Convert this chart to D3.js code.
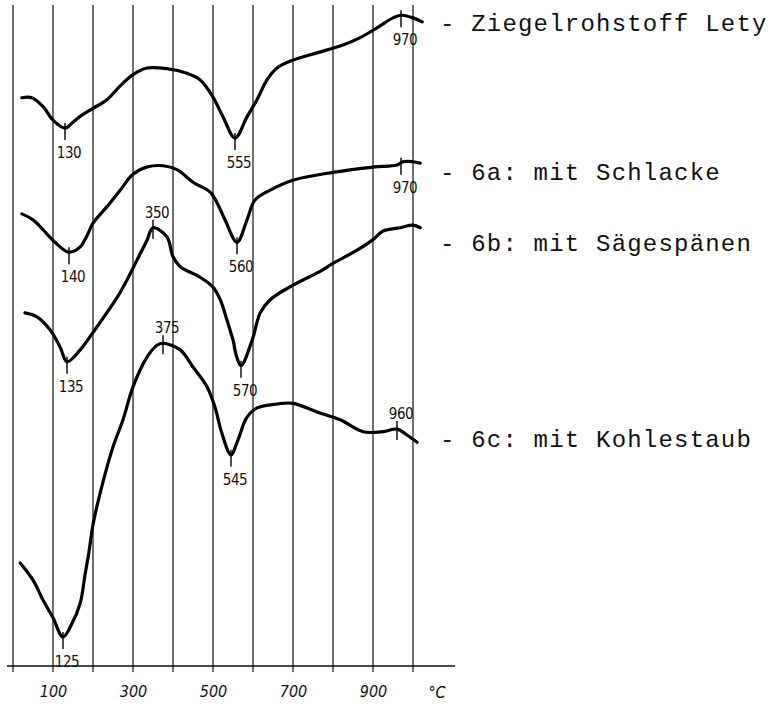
<!DOCTYPE html>
<html>
<head>
<meta charset="utf-8">
<script src="https://cdn.jsdelivr.net/npm/d3@7"></script>
<style>
  body { margin: 0; background: #fff; }
  svg { display: block; }
</style>
</head>
<body>
<svg width="768" height="708"></svg>
<script>
// temperatures (°C) and relative DTA deflection (arbitrary units, 0..100)
const lety = [
  [22, 86.1], [47, 86.1], [76, 84.7], [100, 82.7], [130, 81.5], [150, 82.4], [173, 83.5],
  [200, 84.5], [235, 85.8], [268, 87.9], [300, 89.6], [335, 90.6], [385, 90.5], [435, 89.8],
  [468, 88.8], [500, 86.2], [525, 83.2], [555, 80.0], [585, 83.2], [610, 85.8], [635, 88.8],
  [660, 90.6], [700, 91.8], [760, 92.9], [825, 94.1], [868, 95.2], [910, 96.7], [950, 98.2],
  [970, 98.6], [1000, 98.2], [1023, 97.6]
];
const schlacke = [
  [22, 68.5], [50, 67.6], [75, 66.1], [105, 64.2], [140, 62.7], [168, 63.5], [185, 65.2],
  [200, 67.1], [235, 69.6], [268, 72.1], [300, 74.5], [335, 75.6], [375, 75.8], [410, 75.2],
  [450, 73.3], [493, 71.8], [510, 70.2], [530, 67.6], [560, 64.2], [585, 67.6], [605, 70.6],
  [643, 72.1], [700, 73.6], [800, 74.8], [900, 75.6], [960, 75.9], [975, 76.4], [1000, 76.4],
  [1018, 76.2]
];
const saegespaene = [
  [30, 53.5], [60, 52.9], [93, 50.9], [118, 48.3], [135, 46.1], [168, 47.9], [210, 51.4],
  [260, 55.8], [285, 58.5], [310, 61.5], [335, 64.5], [350, 66.4], [385, 65.0], [400, 62.0],
  [418, 60.5], [468, 58.9], [500, 57.4], [518, 55.5], [535, 52.4], [550, 49.4], [558, 47.1],
  [570, 45.5], [598, 49.4], [618, 53.5], [643, 55.5], [700, 57.7], [768, 59.8], [800, 61.0],
  [860, 63.0], [900, 64.6], [925, 65.9], [968, 66.4], [1000, 66.8], [1018, 66.4]
];
const kohlestaub = [
  [18, 15.6], [50, 13.0], [75, 10.0], [100, 7.3], [125, 4.4], [148, 6.5], [168, 9.5],
  [180, 13.8], [190, 17.3], [200, 21.4], [225, 27.9], [250, 33.2], [275, 37.3], [300, 42.3],
  [335, 46.8], [360, 48.6], [375, 48.9], [418, 47.9], [450, 45.3], [485, 42.3], [505, 39.2],
  [522, 35.3], [545, 32.0], [562, 34.2], [585, 37.7], [610, 39.1], [660, 39.7], [700, 39.8],
  [760, 38.5], [818, 37.3], [875, 35.5], [925, 35.5], [960, 35.9], [985, 35.0], [1010, 33.9]
];

const seriesNames = ['Ziegelrohstoff Lety', '6a: mit Schlacke', '6b: mit Sägespänen', '6c: mit Kohlestaub'];
const seriesData = [lety, schlacke, saegespaene, kohlestaub];
const legendLevel = [97.3, 74.7, 64.0, 34.2];

// peak / trough marks: series index, temperature, label side
const peaks = [
  { s: 0, t: 130, side: 'below' }, { s: 0, t: 555, side: 'below' }, { s: 0, t: 970, side: 'below' },
  { s: 1, t: 140, side: 'below' }, { s: 1, t: 560, side: 'below' }, { s: 1, t: 970, side: 'below' },
  { s: 2, t: 135, side: 'below' }, { s: 2, t: 350, side: 'above' }, { s: 2, t: 570, side: 'below' },
  { s: 3, t: 125, side: 'below' }, { s: 3, t: 375, side: 'above' }, { s: 3, t: 545, side: 'below' },
  { s: 3, t: 960, side: 'above' }
];

const gridTemps = [0, 100, 200, 300, 400, 500, 600, 700, 800, 900, 1000];
const tickLabels = [100, 300, 500, 700, 900];

const svg = d3.select('svg');
const x = d3.scaleLinear().domain([0, 1000]).range([13, 413]);
const y = d3.scaleLinear().domain([0, 100]).range([666, 6]);

const handFont = '"DejaVu Sans Condensed", "DejaVu Sans", sans-serif';

// vertical grid
svg.append('g')
  .selectAll('line')
  .data(gridTemps)
  .enter()
  .append('line')
  .attr('x1', d => x(d)).attr('x2', d => x(d))
  .attr('y1', 5).attr('y2', 672)
  .attr('stroke', '#111')
  .attr('stroke-width', 1.2);

// x axis
svg.append('line')
  .attr('x1', x(-15)).attr('x2', x(1105))
  .attr('y1', y(0)).attr('y2', y(0))
  .attr('stroke', '#111')
  .attr('stroke-width', 1.6);

const axis = svg.append('g')
  .attr('transform', `translate(0, ${y(0)})`)
  .call(d3.axisBottom(x).tickValues(tickLabels).tickSize(0).tickPadding(20));
axis.select('.domain').remove();
axis.selectAll('text')
  .attr('font-family', handFont)
  .attr('font-size', 16)
  .attr('font-style', 'italic')
  .attr('fill', '#111');

svg.append('text')
  .attr('x', x(1060)).attr('y', 698)
  .attr('text-anchor', 'middle')
  .attr('font-family', handFont)
  .attr('font-size', 16)
  .attr('font-style', 'italic')
  .text('°C');

// curves
const line = d3.line()
  .x(d => x(d[0]))
  .y(d => y(d[1]))
  .curve(d3.curveCatmullRom.alpha(0.5));

svg.append('g')
  .selectAll('path')
  .data(seriesData)
  .enter()
  .append('path')
  .attr('d', line)
  .attr('fill', 'none')
  .attr('stroke', '#000')
  .attr('stroke-width', 3.2)
  .attr('stroke-linejoin', 'round')
  .attr('stroke-linecap', 'round');

// peak marks
function valueAt(data, t) {
  for (let i = 1; i < data.length; i++) {
    if (t <= data[i][0]) {
      const a = data[i - 1], b = data[i];
      return a[1] + (b[1] - a[1]) * (t - a[0]) / (b[0] - a[0]);
    }
  }
  return data[data.length - 1][1];
}

const marks = svg.append('g');
peaks.forEach(p => {
  const px = x(p.t);
  const py = y(valueAt(seriesData[p.s], p.t));
  const below = p.side === 'below';
  marks.append('line')
    .attr('x1', px).attr('x2', px)
    .attr('y1', below ? py - 5 : py - 8)
    .attr('y2', below ? py + 12 : py + 11)
    .attr('stroke', '#000')
    .attr('stroke-width', 1.4);
  marks.append('text')
    .attr('x', px + 4)
    .attr('y', below ? py + 30 : py - 10)
    .attr('text-anchor', 'middle')
    .attr('font-family', handFont)
    .attr('font-size', 15)
    .attr('letter-spacing', -0.5)
    .attr('fill', '#111')
    .text(p.t);
});

// series names
svg.append('g')
  .selectAll('text')
  .data(seriesNames)
  .enter()
  .append('text')
  .attr('x', 440)
  .attr('y', (d, i) => y(legendLevel[i]) + 7)
  .attr('font-family', '"Liberation Mono", "DejaVu Sans Mono", monospace')
  .attr('font-size', 24)
  .attr('letter-spacing', 1.2)
  .attr('fill', '#111')
  .attr('xml:space', 'preserve')
  .text(d => '- ' + d);
</script>
</body>
</html>
